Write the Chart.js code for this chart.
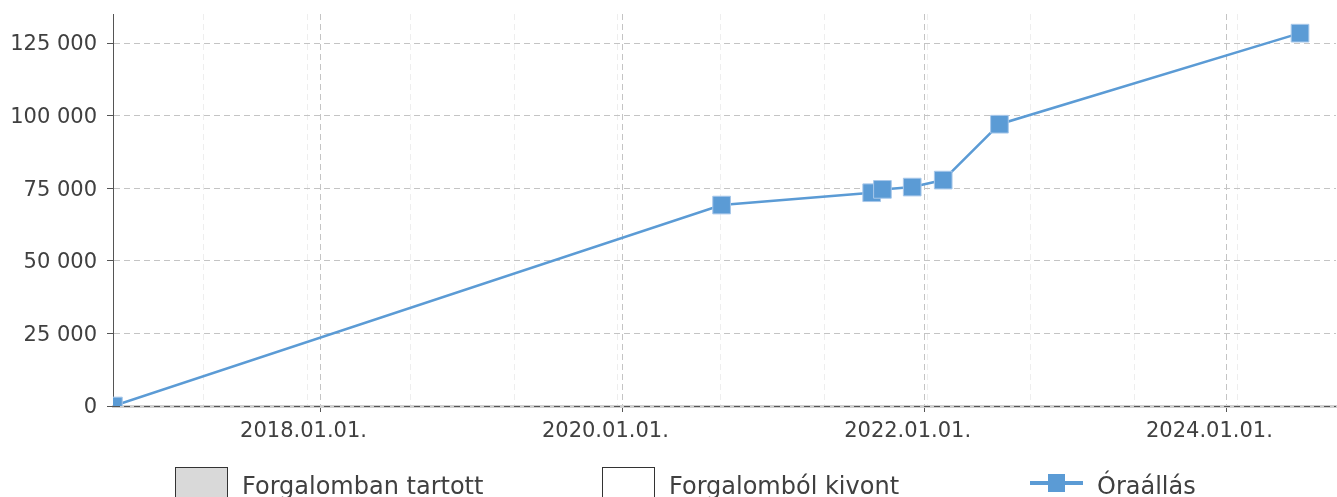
<!DOCTYPE html>
<html lang="hu">
<head>
<meta charset="utf-8">
<title>Óraállás</title>
<script src="https://cdn.jsdelivr.net/npm/chart.js@4.4.1/dist/chart.umd.min.js"></script>
<style>
  html, body { margin: 0; padding: 0; background: #fff; overflow: hidden; }
  .wrap { position: relative; width: 1337px; height: 497px; overflow: hidden; }
  #legend { position: absolute; top: 467px; left: 0; width: 1337px; height: 60px;
    font-family: "DejaVu Sans", sans-serif; font-size: 24px; color: #404040; }
  .item { position: absolute; top: 0; height: 38px; }
  .item .box { position: absolute; left: 0; top: 0; width: 53px; height: 38px; box-sizing: border-box; border: 1px solid #333; }
  .item .line { position: absolute; left: 0; top: 14px; width: 53px; height: 4px; }
  .item .sq { position: absolute; left: 18px; top: 7px; width: 17px; height: 18px; }
  .item .txt { position: absolute; left: 67px; top: 0; line-height: 38px; white-space: nowrap; }
</style>
</head>
<body>
<div class="wrap">
  <canvas id="chart" width="1337" height="497"></canvas>
  <div id="legend"></div>
</div>
<script>
// óraállás leolvasások (dátum, km)
const readDates = ['2016-08-18', '2020-08-28', '2021-08-26', '2021-09-21', '2021-12-02', '2022-02-15', '2022-07-01', '2024-06-27'];
const readings = [0, 69200, 73450, 74600, 75400, 77800, 97050, 128400];

// tengelyek
const yearLabels = ['2018.01.01.', '2020.01.01.', '2022.01.01.', '2024.01.01.'];
const yTicks = [0, 25000, 50000, 75000, 100000, 125000];
const xRange = ['2016-08-17', '2024-09-22'];
const yMax = 135000;

const seriesNames = ['Forgalomban tartott', 'Forgalomból kivont', 'Óraállás'];

const DAY = 86400000;
const toTime = (s) => Date.parse(s.replace(/\./g, '-').replace(/-$/, ''));
const fmt = (v) => String(v).replace(/\B(?=(\d{3})+(?!\d))/g, ' ');

// halvány segédrács (250 naponként)
const minorStart = toTime('2017-03-25');
const minorStep = 250 * DAY;

const blue = '#5b9bd5';

const ctx = document.getElementById('chart').getContext('2d');
const chart = new Chart(ctx, {
  type: 'line',
  data: {
    datasets: [
      { type: 'bar', label: seriesNames[0], data: [], backgroundColor: '#d9d9d9', borderColor: '#333', borderWidth: 1 },
      { type: 'bar', label: seriesNames[1], data: [], backgroundColor: '#ffffff', borderColor: '#333', borderWidth: 1 },
      {
        label: seriesNames[2],
        data: readDates.map((d, i) => ({ x: toTime(d), y: readings[i] })),
        borderColor: blue,
        borderWidth: 2.5,
        tension: 0,
        pointStyle: 'rect',
        pointRadius: 12.5,
        pointHoverRadius: 12.5,
        pointBackgroundColor: blue,
        pointBorderColor: '#a8c8ea',
        pointBorderWidth: 1,
      },
    ],
  },
  options: {
    responsive: false,
    animation: false,
    devicePixelRatio: 1,
    layout: { autoPadding: false, padding: { top: 14, right: 1, bottom: 0, left: 0 } },
    plugins: { legend: { display: false }, tooltip: { enabled: false } },
    scales: {
      x: {
        type: 'linear',
        offset: false,
        min: toTime(xRange[0]),
        max: toTime(xRange[1]),
        afterBuildTicks: (scale) => {
          const t = yearLabels.map((l) => ({ value: toTime(l), major: true }));
          for (let v = minorStart; v < scale.max; v += minorStep) t.push({ value: v, major: false });
          t.sort((a, b) => a.value - b.value);
          scale.ticks = t;
        },
        afterFit: (scale) => {
          scale.height = 91;
          scale.paddingLeft = 0;
          scale.paddingRight = 0;
        },
        ticks: {
          autoSkip: false,
          maxRotation: 0,
          padding: 7,
          labelOffset: -17,
          color: '#404040',
          font: { family: 'DejaVu Sans', size: 21 },
          callback: (value, i, ticks) => {
            if (!ticks[i].major) return '';
            return yearLabels.find((l) => toTime(l) === value);
          },
        },
        grid: {
          offset: false,
          color: (c) => (c.tick && c.tick.major ? '#c4c4c4' : '#eeeeee'),
          tickColor: (c) => (c.tick && c.tick.major ? '#555' : 'rgba(0,0,0,0)'),
          tickLength: 6,
          lineWidth: 1,
        },
        border: { display: true, color: '#d0d0d0', width: 3, dash: [6, 4], z: -1 },
      },
      y: {
        min: 0,
        max: yMax,
        afterBuildTicks: (scale) => { scale.ticks = yTicks.map((v) => ({ value: v })); },
        afterFit: (scale) => {
          scale.width = 113;
          scale.paddingTop = 0;
          scale.paddingBottom = 0;
        },
        ticks: {
          padding: 10,
          labelOffset: 2,
          color: '#404040',
          font: { family: 'DejaVu Sans', size: 21 },
          callback: (v) => fmt(v),
        },
        grid: {
          color: (c) => (c.tick && c.tick.value === 0 ? '#555' : '#c4c4c4'),
          tickColor: '#555',
          tickLength: 6,
        },
        border: { display: true, color: '#555', width: 1, dash: [6, 4] },
      },
    },
  },
});

// saját jelmagyarázat
const legendLeft = [175, 602, 1030];
const legendEl = document.getElementById('legend');
chart.data.datasets.forEach((ds, i) => {
  const item = document.createElement('div');
  item.className = 'item';
  item.style.left = legendLeft[i] + 'px';
  if (ds.type === 'bar') {
    const box = document.createElement('div');
    box.className = 'box';
    box.style.background = ds.backgroundColor;
    box.style.borderColor = ds.borderColor;
    item.appendChild(box);
  } else {
    const line = document.createElement('div');
    line.className = 'line';
    line.style.background = ds.borderColor;
    const sq = document.createElement('div');
    sq.className = 'sq';
    sq.style.background = ds.pointBackgroundColor;
    item.appendChild(line);
    item.appendChild(sq);
  }
  const txt = document.createElement('span');
  txt.className = 'txt';
  txt.textContent = ds.label;
  item.appendChild(txt);
  legendEl.appendChild(item);
});
</script>
</body>
</html>
